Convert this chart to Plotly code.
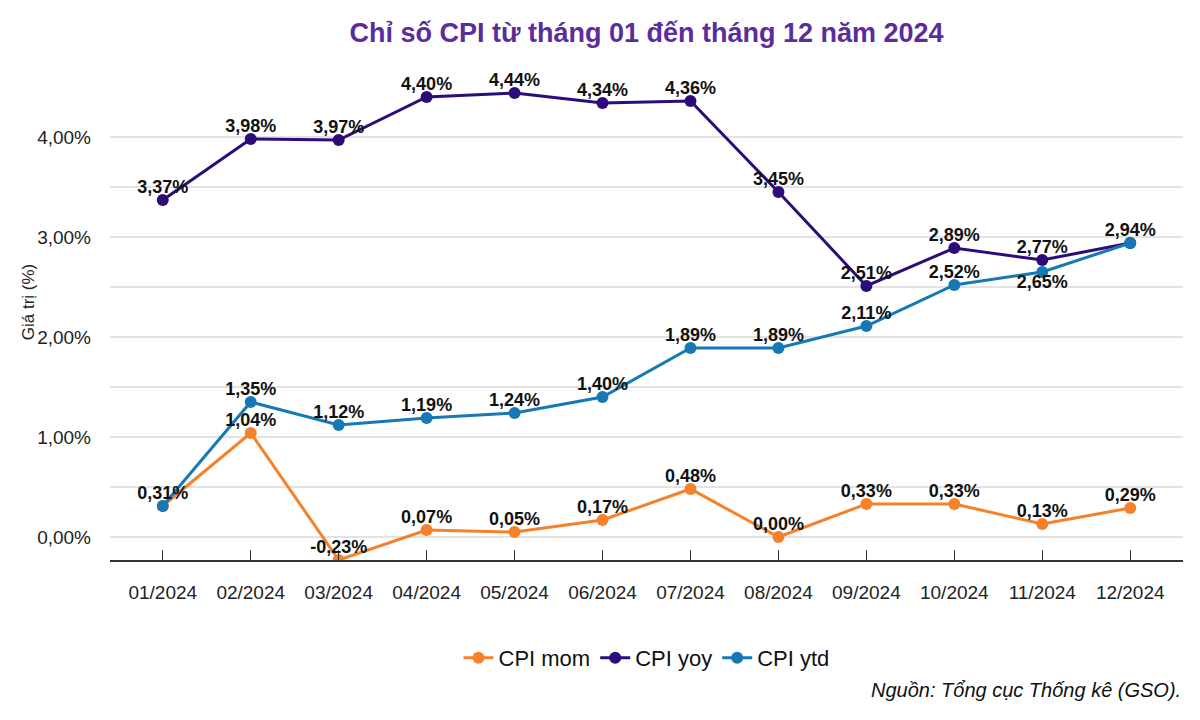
import plotly.graph_objects as go

months = ["01/2024", "02/2024", "03/2024", "04/2024", "05/2024", "06/2024",
          "07/2024", "08/2024", "09/2024", "10/2024", "11/2024", "12/2024"]
cpi_mom = [0.31, 1.04, -0.23, 0.07, 0.05, 0.17, 0.48, 0.00, 0.33, 0.33, 0.13, 0.29]
cpi_yoy = [3.37, 3.98, 3.97, 4.40, 4.44, 4.34, 4.36, 3.45, 2.51, 2.89, 2.77, 2.94]
cpi_ytd = [0.31, 1.35, 1.12, 1.19, 1.24, 1.40, 1.89, 1.89, 2.11, 2.52, 2.65, 2.94]
y_ticks = [0, 1, 2, 3, 4]

def fmt(v):
    return f"{v:.2f}%".replace(".", ",")

mom_text = [fmt(v) for v in cpi_mom]
mom_text[0] = ""
yoy_text = [fmt(v) for v in cpi_yoy]
ytd_text = [fmt(v) for v in cpi_ytd]
ytd_text[-1] = ""
ytd_pos = ["top center"] * len(months)
ytd_pos[10] = "bottom center"

FONT = "Liberation Sans, Arial"
label_font = dict(family=FONT, size=18, color="#111111", weight="bold")

fig = go.Figure()
series = [
    ("CPI mom", cpi_mom, mom_text, "#f5822a", "top center"),
    ("CPI yoy", cpi_yoy, yoy_text, "#2d0c7a", "top center"),
    ("CPI ytd", cpi_ytd, ytd_text, "#1679b6", ytd_pos),
]
for name, vals, txt, col, pos in series:
    fig.add_trace(go.Scatter(
        x=months, y=vals, name=name, mode="lines+markers",
        line=dict(color=col, width=3), marker=dict(color=col, size=12),
        cliponaxis=True,
    ))
for name, vals, txt, col, pos in series:
    fig.add_trace(go.Scatter(
        x=months, y=vals, name=name, mode="markers+text", showlegend=False,
        text=txt, textposition=pos, textfont=label_font,
        marker=dict(color="rgba(0,0,0,0)", size=2),
        cliponaxis=False, hoverinfo="skip",
    ))

fig.update_layout(
    width=1184, height=704,
    paper_bgcolor="white", plot_bgcolor="white",
    margin=dict(l=102, r=9, t=79, b=152),
    font=dict(family=FONT, size=18, color="#222222"),
    title=dict(text="<b>Chỉ số CPI từ tháng 01 đến tháng 12 năm 2024</b>",
               x=0.5, xref="paper", xanchor="center", y=1 - 25 / 704, yref="container",
               yanchor="middle",
               font=dict(family=FONT, size=27, color="#5a2d9c")),
    showlegend=True,
    legend=dict(orientation="h", x=0.5, xanchor="center", y=-0.207, yanchor="middle",
                font=dict(size=22, color="#111111")),
    xaxis=dict(type="category", range=[-0.6, 11.6], showgrid=False,
               showline=True, linecolor="#333333", linewidth=1.5,
               ticks="inside", ticklen=10, tickcolor="#333333", tickwidth=1.2,
               ticklabelstandoff=14, tickfont=dict(size=19, color="#222222")),
    yaxis=dict(range=[-0.23, 4.5], tickvals=y_ticks, ticktext=[fmt(v) for v in y_ticks],
               showgrid=True, gridcolor="#e3e3e3", gridwidth=2, zeroline=False,
               minor=dict(dtick=0.5, tick0=0, showgrid=True, gridcolor="#e3e3e3", gridwidth=2),
               tickfont=dict(size=19, color="#222222"), ticklabelstandoff=18),
    annotations=[
        dict(text="Giá trị (%)", textangle=-90, xref="paper", yref="paper",
             x=-0.0764, y=0.545, xanchor="center", yanchor="middle", showarrow=False,
             font=dict(size=17, color="#222222")),
        dict(text="<i>Nguồn: Tổng cục Thống kê (GSO).</i>", xref="paper", yref="paper",
             x=1, y=-0.275, xanchor="right", yanchor="middle", showarrow=False,
             font=dict(size=20, color="#111111")),
    ],
)

fig.write_html("out.html")
